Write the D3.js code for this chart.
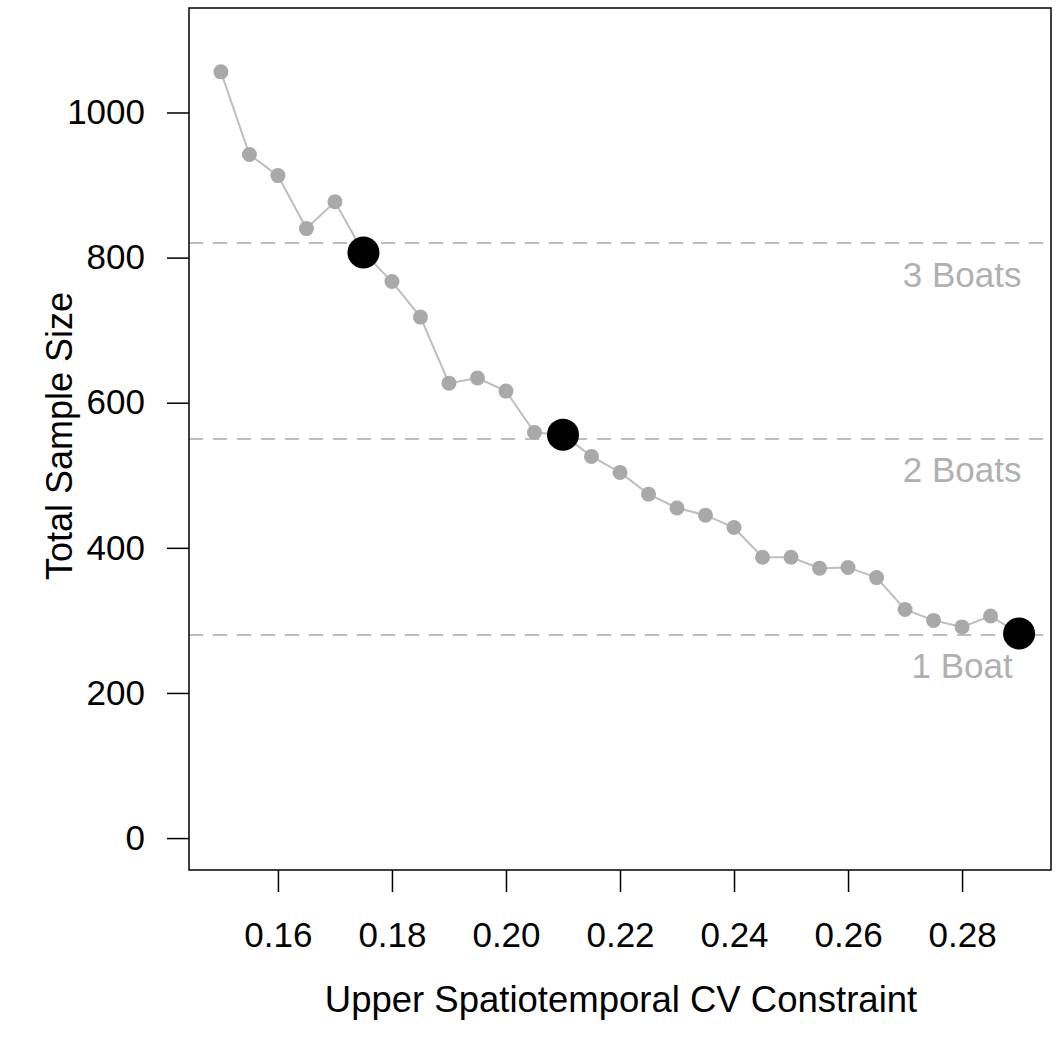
<!DOCTYPE html>
<html>
<head>
<meta charset="utf-8">
<script src="https://cdn.jsdelivr.net/npm/d3@7"></script>
<style>
  html, body { margin: 0; padding: 0; background: #fff; }
  svg text { font-family: "Liberation Sans", Arial, sans-serif; }
</style>
</head>
<body>
<svg id="chart" width="1064" height="1041"></svg>
<script>
// CV constraint values and the resulting total sample size
const cvConstraint = [0.150, 0.155, 0.160, 0.165, 0.170, 0.175, 0.180, 0.185, 0.190, 0.195,
                      0.200, 0.205, 0.210, 0.215, 0.220, 0.225, 0.230, 0.235, 0.240, 0.245,
                      0.250, 0.255, 0.260, 0.265, 0.270, 0.275, 0.280, 0.285, 0.290];
const sampleSize = [1056, 942, 913, 840, 877, 807, 767, 718, 627, 634,
                    616, 559, 556, 526, 504, 474, 455, 445, 428, 387,
                    387, 372, 373, 359, 315, 300, 291, 306, 282];

// Highlighted solutions (one per fleet size)
const highlightCV = [0.175, 0.210, 0.290];

// Fleet capacity reference lines
const boatCapacity = [820, 550, 280];
const boatLabels = ["3 Boats", "2 Boats", "1 Boat"];
const boatLabelCV = 0.28;

// Axis ticks
const xTicks = [0.16, 0.18, 0.20, 0.22, 0.24, 0.26, 0.28];
const yTicks = [0, 200, 400, 600, 800, 1000];

(function () {
  const svg = d3.select("#chart");
  const pL = 189, pR = 1051, pT = 8, pB = 870;

  // Axis ranges padded by 4% like base-graphics defaults
  const xPad = (0.29 - 0.15) * 0.04;
  const yPad = 1100 * 0.04;
  const x = d3.scaleLinear().domain([0.15 - xPad, 0.29 + xPad]).range([pL, pR]);
  const y = d3.scaleLinear().domain([-yPad, 1100 + yPad]).range([pB, pT]);

  const data = cvConstraint.map((c, i) => ({ cv: c, n: sampleSize[i] }));

  // Reference lines
  svg.append("g").selectAll("line").data(boatCapacity).join("line")
    .attr("x1", pL).attr("x2", pR)
    .attr("y1", d => y(d)).attr("y2", d => y(d))
    .attr("stroke", "#bebebe").attr("stroke-width", 2)
    .attr("stroke-dasharray", "14,10");

  svg.append("g").selectAll("text").data(boatCapacity).join("text")
    .attr("x", x(boatLabelCV))
    .attr("y", d => y(d - 43))
    .attr("dy", "0.35em")
    .attr("text-anchor", "middle")
    .attr("font-size", 35)
    .attr("fill", "#b0b0b0")
    .text((d, i) => boatLabels[i]);

  // Connecting line
  svg.append("path").datum(data)
    .attr("fill", "none")
    .attr("stroke", "#bebebe")
    .attr("stroke-width", 2)
    .attr("d", d3.line().x(d => x(d.cv)).y(d => y(d.n)));

  // Points
  svg.append("g").selectAll("circle").data(data).join("circle")
    .attr("cx", d => x(d.cv)).attr("cy", d => y(d.n))
    .attr("r", 7.5).attr("fill", "#a9a9a9");

  // Highlighted points
  const hl = data.filter(d => highlightCV.some(h => Math.abs(h - d.cv) < 1e-9));
  svg.append("g").selectAll("circle").data(hl).join("circle")
    .attr("cx", d => x(d.cv)).attr("cy", d => y(d.n))
    .attr("r", 16).attr("fill", "#000");

  // Frame
  svg.append("rect")
    .attr("x", pL).attr("y", pT)
    .attr("width", pR - pL).attr("height", pB - pT)
    .attr("fill", "none").attr("stroke", "#000").attr("stroke-width", 1.5);

  // X axis
  const xAxis = svg.append("g").attr("transform", `translate(0,${pB})`)
    .call(d3.axisBottom(x).tickValues(xTicks).tickFormat(d3.format(".2f"))
      .tickSize(22).tickPadding(30));
  xAxis.select(".domain").remove();
  xAxis.selectAll("line").attr("stroke", "#000").attr("stroke-width", 1.5);
  xAxis.selectAll("text").attr("font-size", 35).attr("fill", "#000")
    .attr("font-family", "'Liberation Sans', Arial, sans-serif");

  // Y axis
  const yAxis = svg.append("g").attr("transform", `translate(${pL},0)`)
    .call(d3.axisLeft(y).tickValues(yTicks).tickFormat(d3.format("d"))
      .tickSize(22).tickPadding(22));
  yAxis.select(".domain").remove();
  yAxis.selectAll("line").attr("stroke", "#000").attr("stroke-width", 1.5);
  yAxis.selectAll("text").attr("font-size", 35).attr("fill", "#000")
    .attr("font-family", "'Liberation Sans', Arial, sans-serif");

  // Axis titles
  svg.append("text")
    .attr("x", (pL + pR) / 2 + 1).attr("y", 1012)
    .attr("text-anchor", "middle").attr("font-size", 36.5)
    .text("Upper Spatiotemporal CV Constraint");

  svg.append("text")
    .attr("transform", "translate(72,436) rotate(-90)")
    .attr("text-anchor", "middle").attr("font-size", 36)
    .text("Total Sample Size");
})();
</script>
</body>
</html>
